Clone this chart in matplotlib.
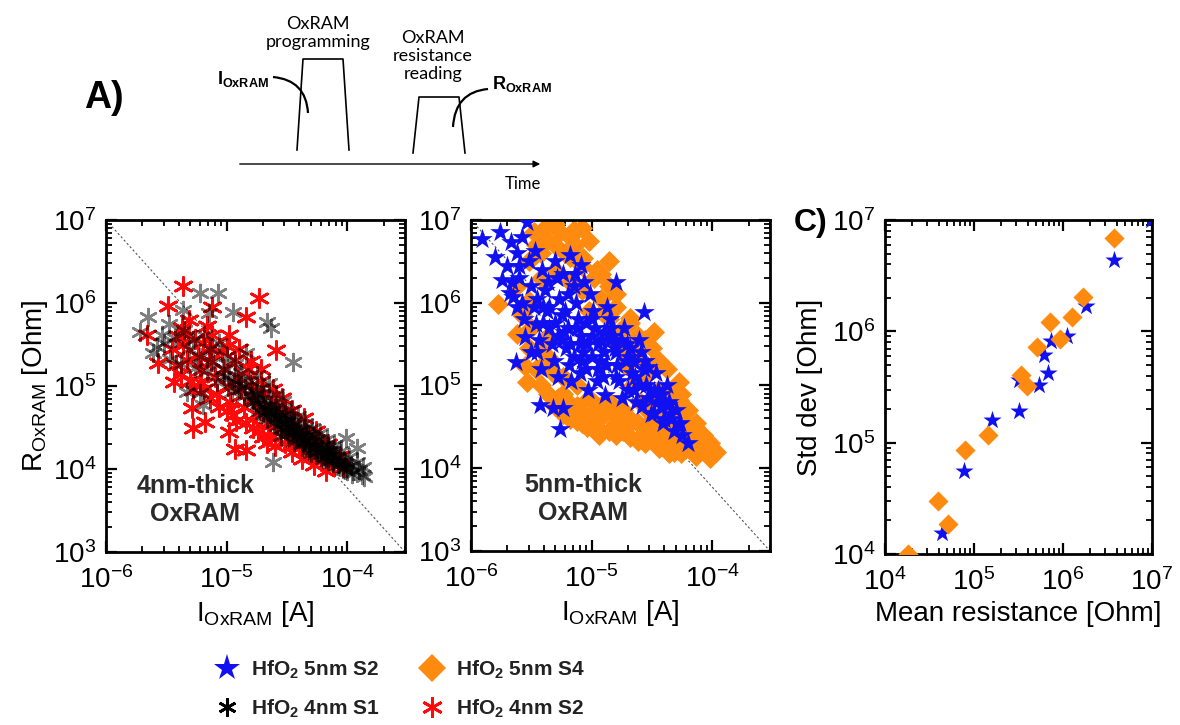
"""Resistance vs programming current scatter plots (OxRAM 4nm / 5nm) + std dev panel."""
import matplotlib

matplotlib.use("Agg")
import matplotlib.pyplot as plt  # noqa
import numpy as np
from matplotlib.lines import Line2D
from matplotlib.patches import PathPatch
from matplotlib.path import Path
from matplotlib.ticker import LogLocator, NullFormatter

plt.rcParams["font.family"] = ["Liberation Sans", "DejaVu Sans"]
plt.rcParams["mathtext.fontset"] = "custom"
plt.rcParams["mathtext.rm"] = "Liberation Sans"
plt.rcParams["mathtext.bf"] = "Liberation Sans:bold"
plt.rcParams["mathtext.default"] = "regular"

# ---- data as (log10 I [A], log10 R [Ohm]) ----
hfo2_4nm_s1 = [
    (-5.65, 5.83), (-5.61, 5.40), (-5.54, 5.61), (-5.22, 6.12), (-5.07, 6.12), (-4.95, 5.89),
    (-4.67, 5.77), (-4.63, 5.70), (-5.33, 4.93), (-5.22, 4.92), (-5.20, 4.77), (-4.62, 4.08),
    (-4.45, 5.29), (-4.01, 4.37), (-3.92, 4.25), (-3.86, 3.90), (-5.72, 5.65), (-5.48, 5.75),
    (-5.36, 5.92), (-5.15, 5.88),
    (-5.58, 5.47), (-5.52, 5.52), (-5.47, 5.33), (-5.43, 5.58), (-5.38, 5.27), (-5.35, 5.68),
    (-5.31, 5.44), (-5.28, 5.56), (-5.26, 5.22), (-5.22, 5.35), (-5.19, 5.62), (-5.16, 5.18),
    (-5.14, 5.45), (-5.11, 5.29), (-5.08, 5.05), (-5.06, 5.52), (-5.03, 5.21), (-5.00, 5.36),
    (-4.98, 5.10), (-4.96, 4.93), (-4.93, 5.27), (-4.91, 5.02), (-4.88, 5.16), (-4.86, 4.88),
    (-4.84, 5.40), (-4.81, 5.06), (-4.79, 4.95), (-4.77, 4.81), (-4.75, 5.13), (-4.73, 4.70),
    (-4.71, 4.98), (-4.69, 4.86), (-4.67, 4.62), (-4.65, 5.04), (-4.63, 4.77), (-4.61, 4.55),
    (-4.59, 4.90), (-4.57, 4.68), (-4.55, 4.48), (-4.53, 4.82), (-4.51, 4.60), (-4.49, 4.42),
    (-4.47, 4.71), (-4.45, 4.53), (-4.43, 4.37), (-4.41, 4.64), (-4.39, 4.47), (-4.37, 4.31),
    (-4.35, 4.56), (-4.33, 4.40), (-4.31, 4.26), (-4.29, 4.50), (-4.27, 4.34), (-4.25, 4.21),
    (-4.23, 4.43), (-4.21, 4.28), (-4.19, 4.16), (-4.17, 4.36), (-4.15, 4.22), (-4.13, 4.11),
    (-4.11, 4.29), (-4.09, 4.16), (-4.07, 4.06), (-4.05, 4.22), (-4.03, 4.10), (-4.01, 4.01),
    (-3.99, 4.15), (-3.97, 4.04), (-3.95, 3.97), (-3.92, 4.08), (-3.90, 3.99), (-3.88, 3.93),
    (-3.87, 4.02),
    (-4.62, 4.70), (-4.58, 4.62), (-4.54, 4.57), (-4.50, 4.52), (-4.46, 4.47), (-4.42, 4.44),
    (-4.38, 4.39), (-4.34, 4.35), (-4.30, 4.33), (-4.26, 4.27), (-4.22, 4.24), (-4.18, 4.20),
    (-4.14, 4.17), (-4.10, 4.12), (-4.06, 4.10), (-4.02, 4.06), (-4.80, 4.88), (-4.76, 4.90),
    (-4.72, 4.84), (-4.68, 4.75), (-4.64, 4.71), (-4.90, 4.96), (-4.94, 5.06), (-4.85, 5.00),
    (-5.02, 5.12), (-4.70, 4.66), (-4.48, 4.58), (-4.36, 4.48), (-4.24, 4.36), (-4.12, 4.24),
    (-4.55, 4.40), (-4.44, 4.32), (-4.32, 4.22), (-4.20, 4.12),
    (-4.78, 4.83), (-4.74, 4.78), (-4.70, 4.76), (-4.66, 4.70), (-4.64, 4.66), (-4.60, 4.64),
    (-4.56, 4.60), (-4.52, 4.55), (-4.48, 4.50), (-4.46, 4.43), (-4.42, 4.40), (-4.40, 4.36),
    (-4.36, 4.34), (-4.32, 4.29), (-4.28, 4.24), (-4.26, 4.20), (-4.22, 4.18), (-4.18, 4.14),
    (-4.16, 4.10), (-4.12, 4.07), (-4.08, 4.04), (-4.04, 4.00), (-4.00, 3.97), (-3.96, 3.94),
    (-4.58, 4.52), (-4.50, 4.46), (-4.38, 4.30), (-4.30, 4.19), (-4.60, 4.74), (-4.52, 4.66),
    (-4.44, 4.58), (-4.34, 4.42), (-4.28, 4.40), (-4.16, 4.26),
]
hfo2_4nm_s2 = [
    (-5.36, 6.20), (-5.49, 5.96), (-4.73, 6.06), (-5.66, 5.61), (-5.57, 5.28), (-5.37, 5.70),
    (-5.31, 5.80), (-5.12, 5.95), (-4.84, 5.83), (-5.29, 4.73), (-5.28, 4.49), (-5.18, 4.57),
    (-4.98, 4.45), (-4.93, 4.24), (-4.84, 4.23), (-4.67, 4.31), (-4.52, 4.31), (-4.59, 5.43),
    (-5.45, 5.45), (-5.42, 5.25), (-5.36, 5.50), (-5.33, 5.31), (-5.30, 5.06), (-5.26, 5.57),
    (-5.24, 5.36), (-5.21, 5.19), (-5.19, 4.96), (-5.15, 5.46), (-5.13, 5.30), (-5.10, 5.11),
    (-5.08, 4.90), (-5.06, 4.75), (-5.04, 5.41), (-5.02, 5.20), (-4.99, 5.00), (-4.97, 4.81),
    (-4.95, 4.65), (-4.93, 5.31), (-4.91, 5.11), (-4.88, 4.96), (-4.86, 4.75), (-4.84, 4.56),
    (-4.82, 5.21), (-4.80, 5.01), (-4.78, 4.86), (-4.76, 4.66), (-4.74, 4.45), (-4.72, 5.06),
    (-4.70, 4.91), (-4.68, 4.71), (-4.66, 4.55), (-4.64, 4.40), (-4.62, 4.96), (-4.60, 4.81),
    (-4.58, 4.61), (-4.56, 4.45), (-4.54, 4.86), (-4.52, 4.70), (-4.50, 4.51), (-4.48, 4.35),
    (-4.46, 4.71), (-4.44, 4.56), (-4.42, 4.41), (-4.40, 4.25), (-4.36, 4.61), (-4.34, 4.45),
    (-4.32, 4.30), (-4.30, 4.15), (-4.26, 4.46), (-4.24, 4.31), (-4.22, 4.10), (-4.16, 4.30),
    (-4.14, 4.15), (-4.12, 4.05), (-4.06, 4.16), (-4.04, 4.02),
    (-5.40, 5.60), (-5.32, 5.62), (-5.20, 5.52), (-5.12, 5.62), (-5.00, 5.48), (-4.90, 5.45),
    (-4.80, 5.30), (-4.72, 5.20), (-5.38, 5.15), (-5.28, 4.95), (-5.22, 5.05), (-5.14, 4.85),
    (-5.00, 4.70), (-4.92, 4.58), (-4.78, 4.50), (-4.70, 4.38), (-4.60, 4.28), (-4.46, 4.20),
    (-4.38, 4.12), (-4.28, 4.05), (-4.18, 3.98), (-5.44, 5.05), (-5.16, 5.72), (-4.98, 5.62),
]
hfo2_5nm_s2 = [
    (-5.91, 6.77), (-5.76, 6.86), (-5.54, 6.98), (-5.67, 6.73), (-5.74, 6.28), (-5.65, 6.07),
    (-5.63, 5.28), (-5.55, 5.59), (-5.45, 5.41), (-5.43, 4.77), (-5.32, 4.73), (-5.24, 4.73),
    (-5.26, 4.47), (-5.18, 6.58), (-5.09, 6.46), (-4.80, 6.25), (-4.57, 5.89), (-4.65, 5.28),
    (-4.53, 5.22), (-4.48, 4.93), (-4.37, 4.77), (-4.40, 4.59), (-4.28, 4.53), (-4.20, 4.31),
    (-4.48, 4.67), (-5.80, 6.55), (-5.58, 6.80), (-5.47, 6.62),
    (-5.70, 6.45), (-5.68, 6.12), (-5.62, 6.60), (-5.60, 6.30), (-5.58, 6.00), (-5.56, 5.80),
    (-5.52, 6.50), (-5.50, 6.20), (-5.48, 5.95), (-5.46, 5.74), (-5.44, 5.55), (-5.41, 6.40),
    (-5.39, 6.15), (-5.37, 5.90), (-5.35, 5.70), (-5.33, 5.50), (-5.31, 5.30), (-5.29, 6.30),
    (-5.27, 6.05), (-5.25, 5.85), (-5.23, 5.65), (-5.21, 5.45), (-5.19, 5.25), (-5.17, 5.05),
    (-5.15, 6.20), (-5.13, 6.00), (-5.11, 5.80), (-5.09, 5.60), (-5.07, 5.40), (-5.05, 5.20),
    (-5.03, 4.95), (-5.01, 6.10), (-4.99, 5.90), (-4.97, 5.70), (-4.95, 5.50), (-4.93, 5.30),
    (-4.91, 5.10), (-4.89, 4.88), (-4.87, 5.95), (-4.85, 5.80), (-4.83, 5.60), (-4.81, 5.45),
    (-4.79, 5.25), (-4.77, 5.05), (-4.75, 4.85), (-4.73, 5.70), (-4.71, 5.50), (-4.69, 5.35),
    (-4.67, 5.15), (-4.65, 4.95), (-4.63, 4.80), (-4.61, 5.55), (-4.59, 5.40), (-4.57, 5.20),
    (-4.55, 5.00), (-4.53, 4.85), (-4.51, 4.65), (-4.47, 5.15), (-4.45, 4.95), (-4.43, 4.75),
    (-4.41, 4.55), (-4.38, 5.00), (-4.36, 4.80), (-4.34, 4.60), (-4.32, 4.45), (-4.30, 4.70),
    (-4.27, 4.55), (-4.25, 4.40),
    (-5.20, 5.70), (-5.10, 5.50), (-5.00, 5.60), (-4.90, 5.40), (-5.05, 5.75), (-4.95, 5.20),
    (-5.15, 5.35), (-5.25, 5.55), (-4.85, 5.55), (-5.30, 5.75), (-5.40, 5.95), (-5.20, 6.10),
    (-5.00, 5.35), (-4.80, 5.10), (-5.10, 5.15), (-4.90, 5.65),
    (-5.50, 5.40), (-5.42, 5.20), (-5.35, 5.95), (-5.28, 5.10), (-5.22, 5.90), (-5.18, 5.50),
    (-5.12, 5.70), (-5.08, 5.30), (-5.04, 5.50), (-5.00, 5.80), (-4.96, 5.05), (-4.92, 5.55),
    (-4.88, 5.25), (-4.84, 5.70), (-4.80, 5.40), (-4.76, 5.55), (-4.72, 5.30), (-4.68, 5.45),
    (-4.64, 5.10), (-4.60, 5.00), (-4.56, 5.30), (-4.52, 4.95), (-4.46, 4.80), (-4.42, 4.90),
    (-5.45, 6.05), (-5.36, 6.25), (-5.30, 6.50), (-5.24, 6.35), (-5.14, 6.35), (-5.06, 6.25),
    (-5.60, 6.45), (-5.66, 6.25), (-5.62, 5.95), (-5.40, 5.75), (-5.28, 5.60), (-4.70, 4.95),
    (-4.58, 4.75), (-4.35, 4.65),
]
hfo2_5nm_s4 = [
    (-5.78, 5.98), (-5.15, 6.88), (-5.37, 6.76), (-5.07, 6.54), (-4.86, 6.50), (-4.68, 5.82),
    (-4.48, 5.65), (-4.28, 5.04), (-5.55, 5.23), (-5.54, 5.04), (-5.12, 4.57), (-4.62, 4.33),
    (-4.44, 4.35), (-4.36, 4.19), (-4.13, 4.27), (-4.00, 4.19), (-4.20, 4.43), (-4.09, 4.35),
    (-4.28, 4.83), (-4.87, 4.83), (-4.82, 4.67), (-5.40, 6.88), (-5.34, 6.98),
    (-5.62, 6.20), (-5.62, 5.62), (-5.52, 6.50), (-5.52, 6.02), (-5.52, 5.45), (-5.46, 5.20),
    (-5.46, 6.70), (-5.42, 6.85), (-5.42, 6.60), (-5.42, 6.30), (-5.42, 5.00), (-5.36, 5.60),
    (-5.36, 5.35), (-5.36, 4.90), (-5.30, 6.95), (-5.30, 6.70), (-5.30, 6.40), (-5.30, 4.75),
    (-5.24, 5.10), (-5.24, 4.90), (-5.24, 4.65), (-5.18, 6.80), (-5.18, 6.55), (-5.18, 6.25),
    (-5.18, 4.60), (-5.12, 5.00), (-5.12, 4.75), (-5.08, 6.90), (-5.08, 6.45), (-5.08, 6.15),
    (-5.08, 4.55), (-5.02, 5.90), (-5.02, 4.85), (-5.02, 4.60), (-4.96, 6.40), (-4.96, 4.50),
    (-4.96, 4.70), (-4.92, 6.35), (-4.92, 6.05), (-4.92, 4.62), (-4.86, 5.80), (-4.86, 4.80),
    (-4.86, 4.45), (-4.86, 6.20), (-4.80, 6.10), (-4.80, 5.95), (-4.80, 4.55), (-4.80, 4.40),
    (-4.74, 5.70), (-4.74, 5.40), (-4.74, 4.70), (-4.74, 4.45), (-4.68, 5.75), (-4.68, 5.50),
    (-4.68, 4.38), (-4.68, 4.60), (-4.62, 5.60), (-4.62, 5.35), (-4.62, 4.55), (-4.56, 5.55),
    (-4.56, 5.10), (-4.56, 4.50), (-4.56, 4.30), (-4.50, 5.45), (-4.50, 5.25), (-4.50, 4.85),
    (-4.50, 4.40), (-4.44, 5.30), (-4.44, 4.95), (-4.44, 4.60), (-4.44, 4.25), (-4.38, 5.20),
    (-4.38, 4.80), (-4.38, 4.50), (-4.38, 4.30), (-4.32, 4.95), (-4.32, 4.70), (-4.32, 4.40),
    (-4.32, 4.20), (-4.26, 4.90), (-4.26, 4.60), (-4.26, 4.35), (-4.26, 4.18), (-4.20, 4.70),
    (-4.20, 4.50), (-4.20, 4.25), (-4.14, 4.55), (-4.14, 4.35), (-4.14, 4.15), (-4.08, 4.40),
    (-4.08, 4.22), (-4.02, 4.30), (-4.02, 4.12), (-3.97, 4.20),
    (-5.48, 6.85), (-5.26, 6.85), (-5.22, 6.60), (-5.14, 6.70), (-5.02, 6.75), (-4.98, 6.30),
    (-4.90, 5.90), (-4.84, 5.60), (-4.78, 5.50), (-4.72, 5.25), (-4.66, 5.00), (-4.60, 4.80),
    (-4.54, 4.70), (-4.48, 4.55), (-4.42, 4.45), (-4.34, 4.30), (-4.24, 4.55), (-4.18, 4.35),
    (-4.10, 4.28), (-4.04, 4.20), (-5.58, 5.85), (-5.50, 5.70), (-5.44, 5.45), (-5.40, 5.25),
    (-5.32, 5.15), (-5.28, 4.85), (-5.20, 4.80), (-5.10, 4.70), (-5.04, 4.50), (-4.94, 4.40),
    (-4.82, 4.50), (-4.70, 4.52), (-4.58, 4.40), (-4.46, 4.32),
]

# panel C: (log10 mean R, log10 std dev R)
std_5nm_s2 = [
    (4.64, 4.19), (4.89, 4.75), (5.20, 5.20), (5.50, 5.56), (5.50, 5.28), (5.73, 5.52),
    (5.79, 5.79), (5.83, 5.63), (5.87, 5.91), (6.05, 5.96), (6.26, 6.23), (6.57, 6.64),
    (6.99, 7.00),
]
std_5nm_s4 = [
    (4.26, 4.00), (4.60, 4.48), (4.71, 4.27), (4.90, 4.93), (5.16, 5.07), (5.53, 5.61),
    (5.59, 5.51), (5.71, 5.86), (5.85, 6.08), (5.97, 5.93), (6.10, 6.13), (6.23, 6.31),
    (6.57, 6.84),
]

# schematic of the pulse sequence (figure pixel coordinates)
prog_pulse_x = [297, 303, 343, 349]
prog_pulse_y = [150, 59, 59, 150]
read_pulse_x = [413, 419, 459, 465]
read_pulse_y = [153, 97, 97, 153]
i_arc = [(273, 77), (306, 80), (308, 113)]
r_arc = [(488, 89), (455, 92), (453, 127)]

BLUE = "#1010f0"
ORANGE = "#ff8a10"
RED = "#ff0a0a"
AST = (6, 2, 0)

W, H = 1180, 725
fig = plt.figure(figsize=(W / 100, H / 100), dpi=100)


def px_axes(left, top, right, bottom):
    return fig.add_axes([left / W, 1 - bottom / H, (right - left) / W, (bottom - top) / H])


def to_xy(pairs):
    arr = np.array(pairs)
    return 10 ** arr[:, 0], 10 ** arr[:, 1]


def style_log_axes(ax):
    ax.set_xscale("log")
    ax.set_yscale("log")
    for side in ax.spines.values():
        side.set_linewidth(2)
    for axis in (ax.xaxis, ax.yaxis):
        axis.set_major_locator(LogLocator(base=10, subs=(1.0,), numticks=20))
        axis.set_minor_locator(LogLocator(base=10, subs=np.arange(2, 10), numticks=20))
        axis.set_minor_formatter(NullFormatter())
    ax.tick_params(which="both", direction="in", top=True, right=True, labelsize=20)
    ax.tick_params(which="major", length=8, width=1.6, pad=7)
    ax.tick_params(axis="x", which="major", pad=10)
    ax.tick_params(which="minor", length=4, width=1.3)


# overlay for the schematic and panel letters
ov = fig.add_axes([0, 0, 1, 1], zorder=-5)
ov.set_xlim(0, W)
ov.set_ylim(H, 0)
ov.axis("off")
ov.plot(prog_pulse_x, prog_pulse_y, color="black", lw=1.2)
ov.plot(read_pulse_x, read_pulse_y, color="black", lw=1.2)
for arc in (i_arc, r_arc):
    ov.add_patch(PathPatch(Path(arc, [Path.MOVETO, Path.CURVE3, Path.CURVE3]),
                           fc="none", ec="black", lw=1.6))
ov.annotate("", xy=(543, 164), xytext=(237, 164),
            arrowprops=dict(arrowstyle="-|>", color="black", lw=1.0, mutation_scale=10))
ov.text(318, 33, "OxRAM\nprogramming", ha="center", va="center", fontsize=13,
        family="Lato", linespacing=1.15)
ov.text(433, 56, "OxRAM\nresistance\nreading", ha="center", va="center", fontsize=13,
        family="Lato", linespacing=1.15)
ov.text(217, 79, r"$\mathbf{I_{OxRAM}}$", ha="left", va="center", fontsize=13)
ov.text(492, 84, r"$\mathbf{R_{OxRAM}}$", ha="left", va="center", fontsize=13)
ov.text(523, 184, "Time", ha="center", va="center", fontsize=12, family="Lato")
ov.text(104, 98, "A)", ha="center", va="center", fontsize=27, weight="bold")
ov.text(811, 223, "C)", ha="center", va="center", fontsize=23, weight="bold")

# panel: 4 nm
ax1 = px_axes(106, 220, 405, 552)
style_log_axes(ax1)
x, y = to_xy(hfo2_4nm_s2)
ax1.scatter(x, y, marker=AST, s=170, color=RED, linewidths=2.0, zorder=2)
x, y = to_xy(hfo2_4nm_s1)
ax1.scatter(x, y, marker=AST, s=150, color="black", alpha=0.5, linewidths=1.8, zorder=3)

# panel: 5 nm
ax2 = px_axes(471, 220, 770, 551)
style_log_axes(ax2)
x, y = to_xy(hfo2_5nm_s4)
ax2.scatter(x, y, marker="D", s=115, color=ORANGE, linewidths=0, zorder=2)
x, y = to_xy(hfo2_5nm_s2)
ax2.scatter(x, y, marker="*", s=240, color=BLUE, linewidths=0, zorder=3)

for ax, label, xpos in ((ax1, "4nm-thick\nOxRAM", 0.298), (ax2, "5nm-thick\nOxRAM", 0.375)):
    ax.set_xlim(1e-6, 3e-4)
    ax.set_ylim(1e3, 1e7)
    ax.plot([1e-6, 3e-4], [1e7, 1e3], color="#555555", lw=0.8, ls=(0, (2, 2)), zorder=1)
    ax.text(xpos, 0.157, label, transform=ax.transAxes, ha="center", va="center",
            fontsize=18, weight="bold", color="#2a2a2a", linespacing=1.2, zorder=4)
    ax.set_xlabel(r"$I_{OxRAM}$ [A]", fontsize=20, labelpad=4)
ax1.set_ylabel(r"$R_{OxRAM}$ [Ohm]", fontsize=20, labelpad=2)

# panel C: std dev vs mean
axc = px_axes(885, 220, 1152, 554)
style_log_axes(axc)
x, y = to_xy(std_5nm_s2)
axc.scatter(x, y, marker="*", s=190, color=BLUE, linewidths=0, zorder=2)
x, y = to_xy(std_5nm_s4)
axc.scatter(x, y, marker="D", s=105, color=ORANGE, linewidths=0, zorder=3)
axc.set_xlim(1e4, 1e7)
axc.set_ylim(1e4, 1e7)
axc.set_xlabel("Mean resistance [Ohm]", fontsize=20, labelpad=4)
axc.set_ylabel("Std dev [Ohm]", fontsize=20, labelpad=6)

# legend
handles = [
    Line2D([], [], ls="none", marker="*", ms=20, color=BLUE, mew=0),
    Line2D([], [], ls="none", marker=AST, ms=13, color="black", mew=2),
    Line2D([], [], ls="none", marker="D", ms=14, color=ORANGE, mew=0),
    Line2D([], [], ls="none", marker=AST, ms=15, color=RED, mew=2),
]
labels = [
    r"HfO$_\mathbf{2}$ 5nm S2",
    r"HfO$_\mathbf{2}$ 4nm S1",
    r"HfO$_\mathbf{2}$ 5nm S4",
    r"HfO$_\mathbf{2}$ 4nm S2",
]
leg = fig.legend(handles, labels, ncol=2, loc="upper left", bbox_to_anchor=(206 / W, 1 - 648 / H),
                 frameon=False, borderpad=0, handlelength=1.0, handletextpad=0.65,
                 columnspacing=2.0, labelspacing=0.8, prop={"weight": "bold", "size": 15})
for t in leg.get_texts():
    t.set_color("#222222")

fig.savefig("out.png", dpi=100)
